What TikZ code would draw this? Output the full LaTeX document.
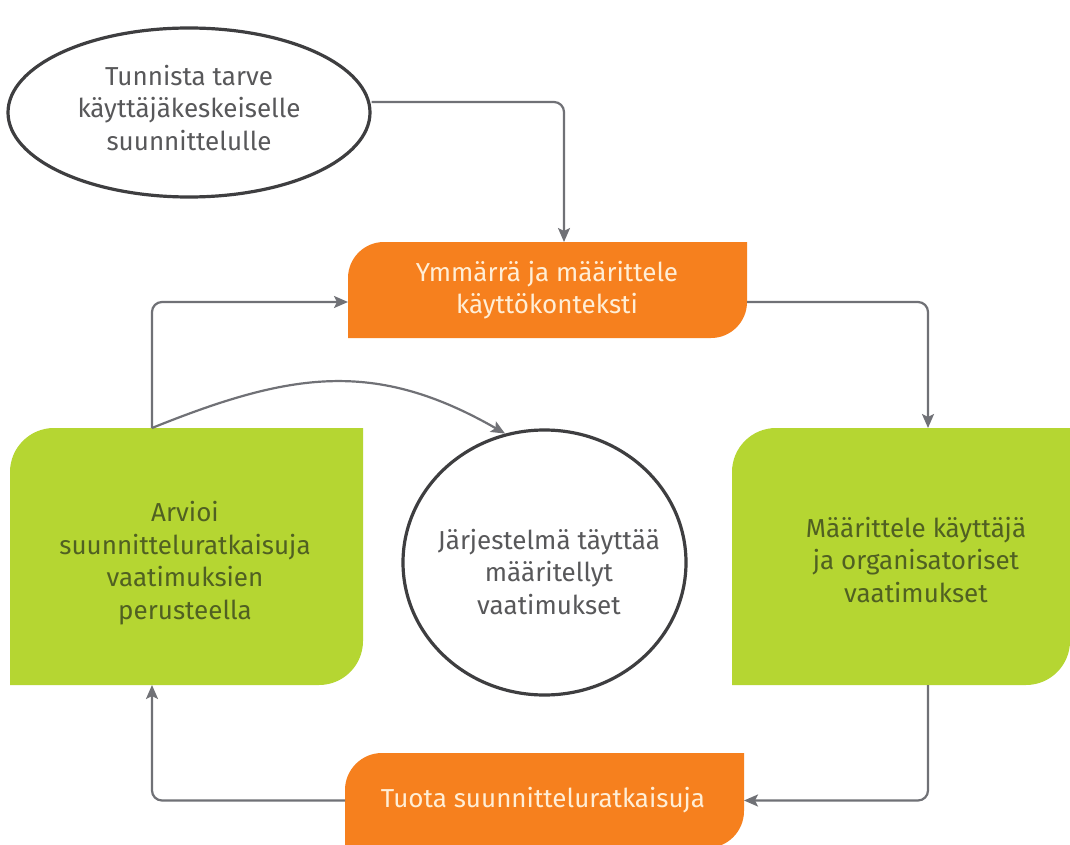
\documentclass[tikz,border=0pt]{standalone}
\usepackage{fontspec}
\setmainfont{Fira Sans}
\usetikzlibrary{arrows.meta,shapes.geometric,backgrounds}

\definecolor{boxorange}{RGB}{246,128,30}
\definecolor{boxgreen}{RGB}{181,214,50}
\definecolor{linegrey}{RGB}{112,113,118}
\definecolor{rimgrey}{RGB}{62,62,64}
\definecolor{capgrey}{RGB}{88,88,90}
\definecolor{olivetext}{RGB}{80,96,34}
\definecolor{creamtext}{RGB}{255,238,214}

% Box with rounded top-left and bottom-right corners, filled behind a named node
\newcommand\leafshape[3]{%
  \fill[#3] ([yshift=-#2]#1.north west)
    .. controls ([yshift=-0.448*#2]#1.north west) and ([xshift=0.448*#2]#1.north west) .. ([xshift=#2]#1.north west)
    -- (#1.north east)
    -- ([yshift=#2]#1.south east)
    .. controls ([yshift=0.448*#2]#1.south east) and ([xshift=-0.448*#2]#1.south east) .. ([xshift=-#2]#1.south east)
    -- (#1.south west) -- cycle;}

\tikzset{
  x=1pt, y=-1pt,
  leaf/.style={rectangle, inner sep=0pt, outer sep=0pt},
  caption/.style={align=center, inner sep=0pt, font=\fontsize{26}{32.5}\selectfont},
  oracap/.style={caption, text=creamtext},
  grncap/.style={caption, text=olivetext},
  greycap/.style={caption, text=capgrey},
  bubble/.style={ellipse, draw=rimgrey, line width=3.2pt, fill=white, inner sep=0pt},
  flow/.style={draw=linegrey, line width=2.2pt, rounded corners=10pt,
    -{Stealth[length=14pt,width=12pt,inset=3pt]}},
}

\begin{document}
\begin{tikzpicture}
  \path[use as bounding box] (0,0) rectangle (1070,845);
  \clip (0,0) rectangle (1070,845);

  % shapes
  \node[bubble, minimum width=362pt, minimum height=169pt] (need) at (189,112.5) {};
  \node[leaf, minimum width=399pt, minimum height=96pt] (context) at (547.5,290) {};
  \node[leaf, minimum width=353pt, minimum height=257pt] (evaluate) at (186.5,556.5) {};
  \node[leaf, minimum width=338pt, minimum height=257pt] (require) at (901,556.5) {};
  \node[leaf, minimum width=399pt, minimum height=95pt] (produce) at (544.5,800.5) {};
  \node[bubble, minimum width=283pt, minimum height=265pt] (done) at (544.5,562.5) {};

  \begin{pgfonlayer}{background}
    \fill[white] (0,0) rectangle (1070,845);
    \leafshape{context}{36pt}{boxorange}
    \leafshape{evaluate}{44pt}{boxgreen}
    \leafshape{require}{44pt}{boxgreen}
    \leafshape{produce}{37pt}{boxorange}
  \end{pgfonlayer}

  % texts
  \node[greycap] (needtxt) at (189,108) {Tunnista tarve\\käyttäjäkeskeiselle\\suunnittelulle};
  \node[oracap] (contexttxt) at (547,290) {Ymmärrä ja määrittele\\käyttökonteksti};
  \node[grncap] (evaluatetxt) at (185,563) {Arvioi\\suunnitteluratkaisuja\\vaatimuksien\\perusteella};
  \node[grncap] (requiretxt) at (916,560) {Määrittele käyttäjä\\ja organisatoriset\\vaatimukset};
  \node[oracap] (producetxt) at (543,800) {Tuota suunnitteluratkaisuja};
  \node[greycap] (donetxt) at (549,572) {Järjestelmä täyttää\\määritellyt\\vaatimukset};

  % anchor points on box edges
  \coordinate (needout) at ([yshift=10.5pt]need.east);
  \coordinate (contextin) at ([xshift=216pt]context.north west);
  \coordinate (evaltop) at ([xshift=142pt]evaluate.north west);
  \coordinate (evalbot) at ([xshift=142pt]evaluate.south west);
  \coordinate (reqtop) at ([xshift=196pt]require.north west);
  \coordinate (reqbot) at ([xshift=196pt]require.south west);

  % connectors
  \draw[flow] (needout) -| (contextin);
  \draw[flow] ([yshift=-12pt]context.east) -| (reqtop);
  \draw[flow] (reqbot) |- (produce.east);
  \draw[flow] (produce.west) -| (evalbot);
  \draw[flow] (evaltop) |- ([yshift=-12pt]context.west);
  \draw[flow, rounded corners=0pt] (evaltop) .. controls (291,372) and (375,359) .. (done.107);
\end{tikzpicture}
\end{document}
